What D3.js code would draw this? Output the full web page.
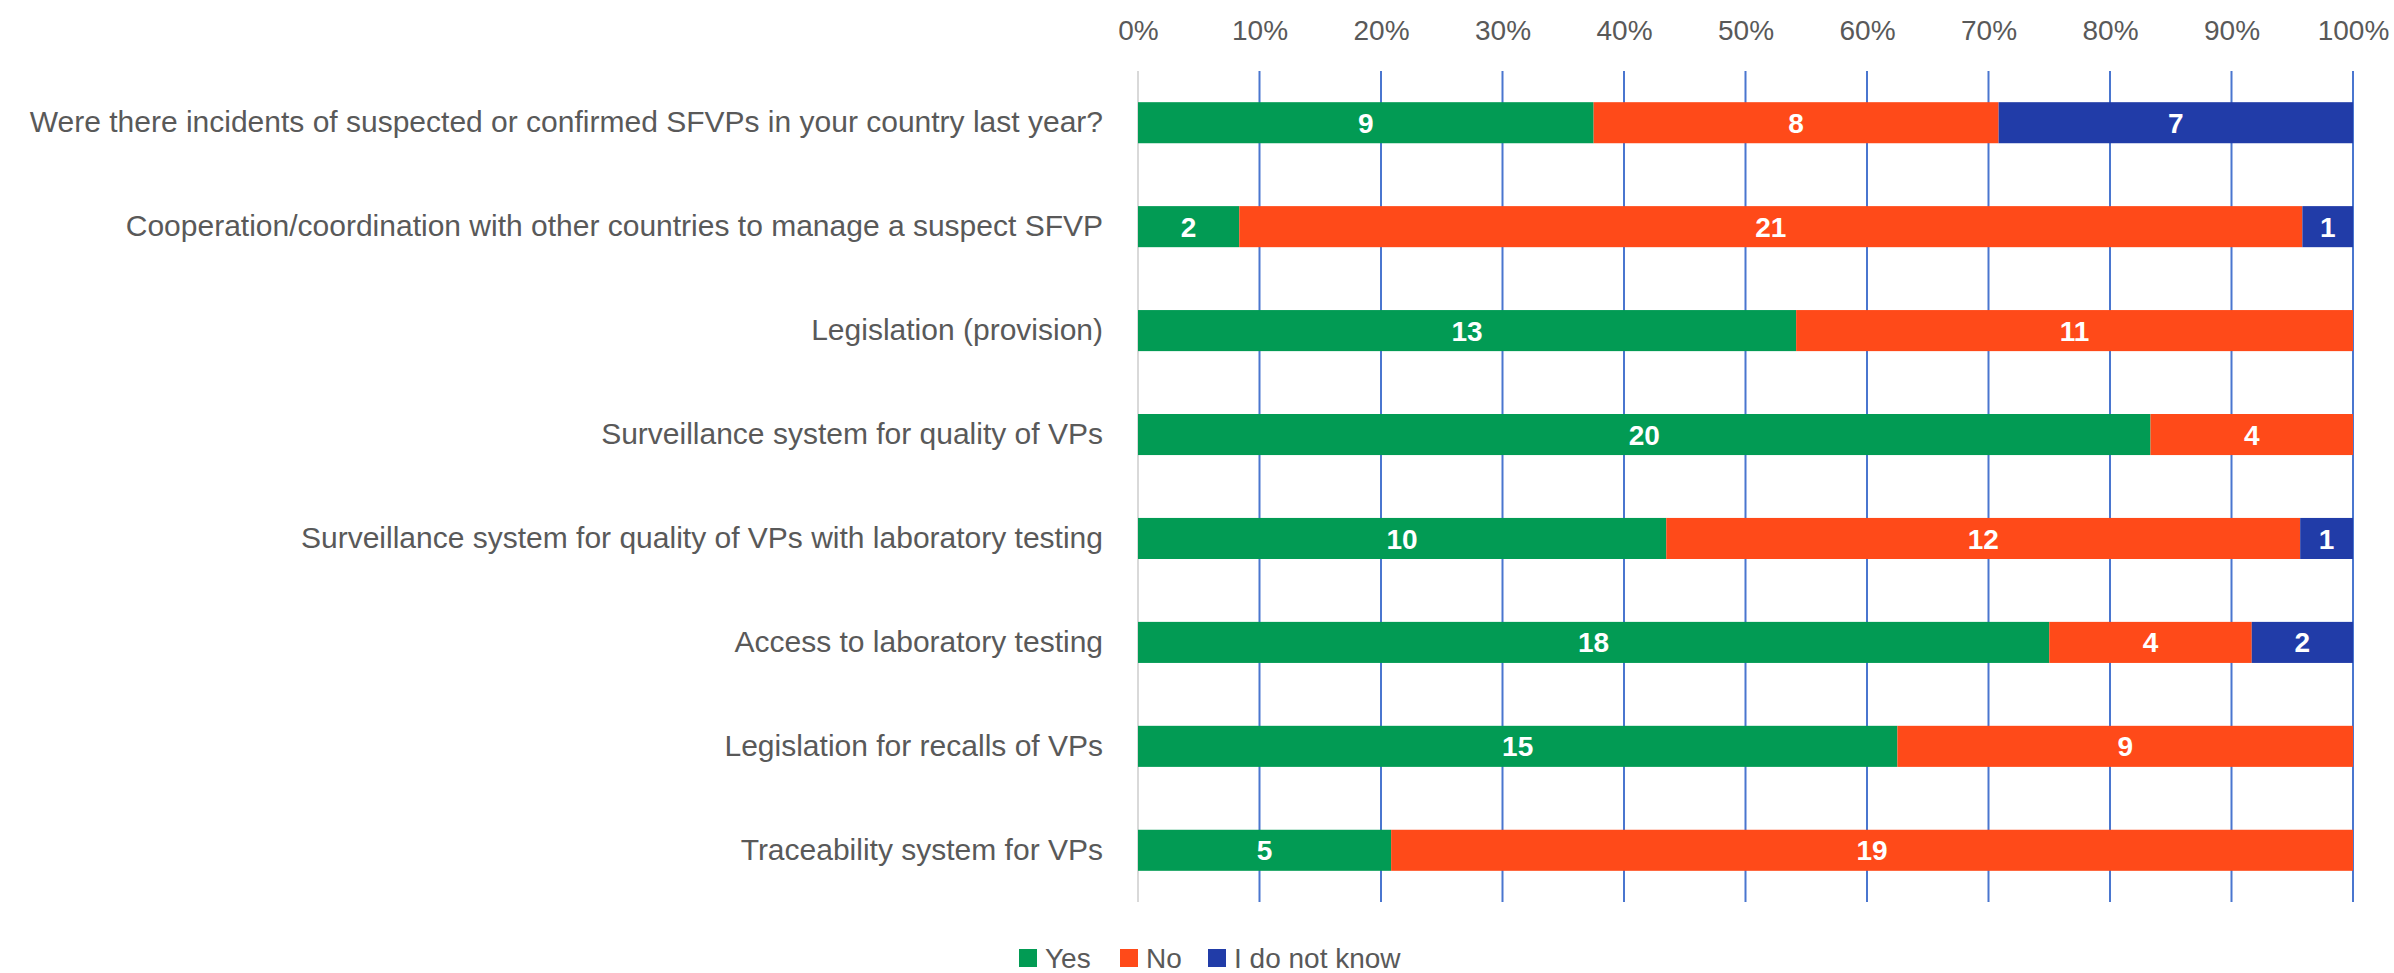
<!DOCTYPE html>
<html>
<head>
<meta charset="utf-8">
<script src="https://cdn.jsdelivr.net/npm/d3@7"></script>
<style>
  body { margin: 0; background: #fff; }
  svg text { font-family: "Liberation Sans", Arial, sans-serif; }
</style>
</head>
<body>
<div id="plot"></div>
<script>
// questions, top to bottom
var categories = [
  'Were there incidents of suspected or confirmed SFVPs in your country last year?',
  'Cooperation/coordination with other countries to manage a suspect SFVP',
  'Legislation (provision)',
  'Surveillance system for quality of VPs',
  'Surveillance system for quality of VPs with laboratory testing',
  'Access to laboratory testing',
  'Legislation for recalls of VPs',
  'Traceability system for VPs'
];
var yes     = [9, 2, 13, 20, 10, 18, 15, 5];
var no      = [8, 21, 11, 4, 12, 4, 9, 19];
var unknown = [7, 1, 0, 0, 1, 2, 0, 0];
var seriesNames = ['Yes', 'No', 'I do not know'];
var colors = ['#029b54', '#ff4a19', '#213ca8'];
var ticks = [0, 0.1, 0.2, 0.3, 0.4, 0.5, 0.6, 0.7, 0.8, 0.9, 1];

var W = 2394, H = 973;
var margin = {t:71, r:41, b:71, l:1138};
var width = W - margin.l - margin.r,
    height = H - margin.t - margin.b;

var svg = d3.select('#plot')
    .append('svg')
    .attr('width', W)
    .attr('height', H);

var plot = svg.append('g')
    .attr('class','plot')
    .attr('transform','translate('+margin.l+','+margin.t+')');

// build rows as percentages of each row total
var rows = categories.map(function(c, i){
    var vals = [yes[i], no[i], unknown[i]];
    var total = d3.sum(vals);
    var x0 = 0;
    return {cat:c, segs: vals.map(function(v, k){
        var s = {k:k, v:v, x0:x0/total, x1:(x0+v)/total};
        x0 += v;
        return s;
    })};
});

var x = d3.scaleLinear().domain([0,1]).range([0,width]);
var y = d3.scaleBand().domain(categories).range([0,height]).paddingInner(0.605).paddingOuter(0.3);

// gridlines (0% is the grey category axis)
plot.selectAll('.grid')
    .data(ticks)
    .enter()
    .append('line')
    .attr('x1', function(d){return x(d);})
    .attr('x2', function(d){return x(d);})
    .attr('y1', 0)
    .attr('y2', height)
    .attr('stroke', function(d){return d === 0 ? '#d9d9d9' : '#4a76cf';})
    .attr('stroke-width', 2);

// top axis labels
var xAxis = d3.axisTop(x).tickValues(ticks).tickFormat(d3.format('.0%')).tickSize(0).tickPadding(0);
var ax = plot.append('g')
    .attr('transform','translate(0,'+(30-margin.t)+')')
    .call(xAxis);
ax.select('.domain').remove();
ax.selectAll('text')
    .attr('font-size', 28)
    .attr('fill', '#595959')
    .attr('y', 0)
    .attr('dy', '0.35em');

// category labels
var yAxis = d3.axisLeft(y).tickSize(0).tickPadding(35);
var ay = plot.append('g').call(yAxis);
ay.select('.domain').remove();
ay.selectAll('text')
    .attr('font-size', 30)
    .attr('fill', '#595959');

// bars
var row = plot.selectAll('.row')
    .data(rows)
    .enter()
    .append('g')
    .attr('transform', function(d){return 'translate(0,'+y(d.cat)+')';});

var seg = row.selectAll('.seg')
    .data(function(d){return d.segs.filter(function(s){return s.v > 0;});})
    .enter();

seg.append('rect')
    .attr('x', function(s){return x(s.x0);})
    .attr('width', function(s){return x(s.x1) - x(s.x0);})
    .attr('height', y.bandwidth())
    .attr('fill', function(s){return colors[s.k];});

seg.append('text')
    .attr('x', function(s){return (x(s.x0)+x(s.x1))/2;})
    .attr('y', y.bandwidth()/2)
    .attr('dy', '0.36em')
    .attr('text-anchor', 'middle')
    .attr('font-size', 28)
    .attr('font-weight', 'bold')
    .attr('fill', '#fff')
    .text(function(s){return s.v;});

// legend
var legend = svg.append('g').attr('transform','translate(1019,958)');
var lx = [0, 101, 189];
seriesNames.forEach(function(n, i){
    var g = legend.append('g').attr('transform','translate('+lx[i]+',0)');
    g.append('rect')
        .attr('x', 0).attr('y', -9)
        .attr('width', 18).attr('height', 18)
        .attr('fill', colors[i]);
    g.append('text')
        .attr('x', 26)
        .attr('dy', '0.35em')
        .attr('font-size', 28)
        .attr('fill', '#595959')
        .text(n);
});
</script>
</body>
</html>
